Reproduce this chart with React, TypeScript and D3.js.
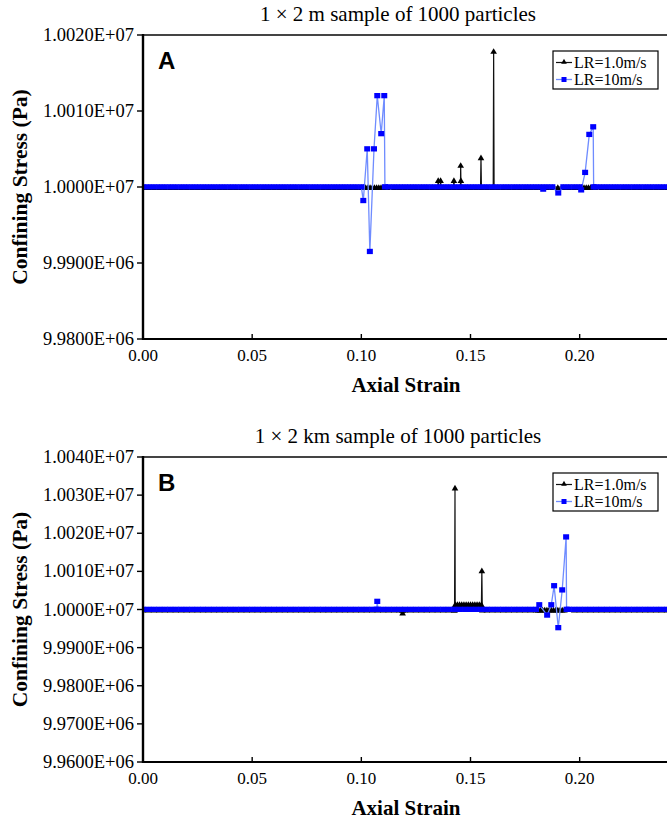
import React from "react";
import * as d3 from "d3";

// two panels: confining stress vs axial strain, stress values kept in MPa
// each series is a list of [axial strain, confining stress (MPa)]

const strainTicks = [0, 0.05, 0.1, 0.15, 0.2];
const stressTicksA = [9.98, 9.99, 10.0, 10.01, 10.02];
const stressTicksB = [9.96, 9.97, 9.98, 9.99, 10.0, 10.01, 10.02, 10.03, 10.04];
const seriesNames = ["LR=1.0m/s", "LR=10m/s"];

type Pt = [number, number];

// panel A (1 x 2 m), LR=1.0m/s
const pointsA1: Pt[] = [
  [0, 10], [0.0025, 10], [0.005, 10], [0.0075, 10], [0.01, 10], [0.0125, 10], [0.015, 10], [0.0175, 10],
  [0.02, 10], [0.0225, 10], [0.025, 10], [0.0275, 10], [0.03, 10], [0.0325, 10], [0.035, 10], [0.0375, 10],
  [0.04, 10], [0.0425, 10], [0.045, 10], [0.0475, 10], [0.05, 10], [0.0525, 10], [0.055, 10], [0.0575, 10],
  [0.06, 10], [0.0625, 10], [0.065, 10], [0.0675, 10], [0.07, 10], [0.0725, 10], [0.075, 10], [0.0775, 10],
  [0.08, 10], [0.0825, 10], [0.085, 10], [0.0875, 10], [0.09, 10], [0.0925, 10], [0.095, 10], [0.0975, 10],
  [0.1, 10], [0.101, 10], [0.102, 10], [0.103, 10], [0.104, 10], [0.105, 10], [0.106, 10], [0.107, 10],
  [0.108, 10], [0.109, 10], [0.11, 10], [0.111, 10], [0.112, 10], [0.115, 10], [0.1175, 10], [0.12, 10],
  [0.1225, 10], [0.125, 10], [0.1275, 10], [0.13, 10], [0.1325, 10], [0.135, 10], [0.1352, 10.0009], [0.1354, 10],
  [0.1361, 10], [0.1363, 10.0009], [0.1365, 10], [0.1375, 10], [0.14, 10], [0.1422, 10], [0.1424, 10.0009],
  [0.1426, 10], [0.145, 10], [0.1454, 10], [0.1455, 10.0029], [0.1456, 10.0009], [0.1457, 10], [0.1475, 10],
  [0.15, 10], [0.1525, 10], [0.1546, 10], [0.1548, 10.0039], [0.155, 10], [0.1575, 10], [0.16, 10], [0.1604, 10],
  [0.1606, 10.0179], [0.1608, 10], [0.1625, 10], [0.165, 10], [0.1675, 10], [0.17, 10], [0.1725, 10], [0.175, 10],
  [0.1775, 10], [0.18, 10], [0.1825, 10], [0.185, 10], [0.1875, 10], [0.19, 10], [0.1925, 10], [0.195, 10],
  [0.1975, 10], [0.2, 10], [0.201, 10], [0.202, 10], [0.203, 10], [0.204, 10], [0.205, 10], [0.206, 10],
  [0.207, 10], [0.21, 10], [0.2125, 10], [0.215, 10], [0.2175, 10], [0.22, 10], [0.2225, 10], [0.225, 10],
  [0.2275, 10], [0.23, 10], [0.2325, 10], [0.235, 10], [0.2375, 10], [0.24, 10], [0.2425, 10], [0.245, 10],
];

// panel A, LR=10m/s
const pointsA10: Pt[] = [
  [0, 10], [0.0025, 10], [0.005, 10], [0.0075, 10], [0.01, 10], [0.0125, 10], [0.015, 10], [0.0175, 10],
  [0.02, 10], [0.0225, 10], [0.025, 10], [0.0275, 10], [0.03, 10], [0.0325, 10], [0.035, 10], [0.0375, 10],
  [0.04, 10], [0.0425, 10], [0.045, 10], [0.0475, 10], [0.05, 10], [0.0525, 10], [0.055, 10], [0.0575, 10],
  [0.06, 10], [0.0625, 10], [0.065, 10], [0.0675, 10], [0.07, 10], [0.0725, 10], [0.075, 10], [0.0775, 10],
  [0.08, 10], [0.0825, 10], [0.085, 10], [0.0875, 10], [0.09, 10], [0.0925, 10], [0.095, 10], [0.0975, 10],
  [0.1, 10], [0.1009, 9.9982], [0.1027, 10.005], [0.1039, 9.9915], [0.1058, 10.005], [0.1073, 10.012],
  [0.1091, 10.007], [0.1105, 10.012], [0.1108, 10], [0.1125, 10], [0.115, 10], [0.1175, 10], [0.12, 10],
  [0.1225, 10], [0.125, 10], [0.1275, 10], [0.13, 10], [0.1325, 10], [0.135, 10], [0.1375, 10], [0.14, 10],
  [0.1425, 10], [0.145, 10], [0.1475, 10], [0.15, 10], [0.1525, 10], [0.155, 10], [0.1575, 10], [0.16, 10],
  [0.1625, 10], [0.165, 10], [0.1675, 10], [0.17, 10], [0.1725, 10], [0.175, 10], [0.1775, 10], [0.18, 10],
  [0.1825, 10], [0.1833, 9.9997], [0.185, 10], [0.1875, 10], [0.1902, 9.9992], [0.1925, 10], [0.195, 10],
  [0.1975, 10], [0.2, 10], [0.2007, 9.9996], [0.2025, 10.0019], [0.2044, 10.0069], [0.2062, 10.0079],
  [0.2064, 10], [0.2075, 10], [0.21, 10], [0.2125, 10], [0.215, 10], [0.2175, 10], [0.22, 10], [0.2225, 10],
  [0.225, 10], [0.2275, 10], [0.23, 10], [0.2325, 10], [0.235, 10], [0.2375, 10], [0.24, 10], [0.2425, 10],
  [0.245, 10],
];

// panel B (1 x 2 km), LR=1.0m/s
const pointsB1: Pt[] = [
  [0, 10], [0.0025, 10], [0.005, 10], [0.0075, 10], [0.01, 10], [0.0125, 10], [0.015, 10], [0.0175, 10],
  [0.02, 10], [0.0225, 10], [0.025, 10], [0.0275, 10], [0.03, 10], [0.0325, 10], [0.035, 10], [0.0375, 10],
  [0.04, 10], [0.0425, 10], [0.045, 10], [0.0475, 10], [0.05, 10], [0.0525, 10], [0.055, 10], [0.0575, 10],
  [0.06, 10], [0.0625, 10], [0.065, 10], [0.0675, 10], [0.07, 10], [0.0725, 10], [0.075, 10], [0.0775, 10],
  [0.08, 10], [0.0825, 10], [0.085, 10], [0.0875, 10], [0.09, 10], [0.0925, 10], [0.095, 10], [0.0975, 10],
  [0.1, 10], [0.1025, 10], [0.105, 10], [0.1075, 10], [0.11, 10], [0.1125, 10], [0.115, 10], [0.1175, 10],
  [0.1187, 10], [0.1189, 9.9992], [0.1191, 10], [0.12, 10], [0.1225, 10], [0.125, 10], [0.1275, 10], [0.13, 10],
  [0.1325, 10], [0.135, 10], [0.1375, 10], [0.14, 10], [0.1425, 10], [0.1427, 10], [0.1429, 10.032],
  [0.143, 10.0014], [0.144, 10.0014], [0.145, 10.0014], [0.146, 10.0014], [0.147, 10.0014], [0.148, 10.0014],
  [0.149, 10.0014], [0.15, 10.0014], [0.151, 10.0014], [0.152, 10.0014], [0.153, 10.0014], [0.154, 10.0014],
  [0.155, 10.0014], [0.1552, 10.0103], [0.1554, 10], [0.1575, 10], [0.16, 10], [0.1625, 10], [0.165, 10],
  [0.1675, 10], [0.17, 10], [0.1725, 10], [0.175, 10], [0.1775, 10], [0.18, 10], [0.181, 10], [0.182, 10],
  [0.183, 10], [0.184, 10], [0.185, 10], [0.186, 10], [0.187, 10], [0.188, 10], [0.189, 10], [0.19, 10],
  [0.191, 10], [0.192, 10], [0.193, 10], [0.1975, 10], [0.2, 10], [0.2025, 10], [0.205, 10], [0.2075, 10],
  [0.21, 10], [0.2125, 10], [0.215, 10], [0.2175, 10], [0.22, 10], [0.2225, 10], [0.225, 10], [0.2275, 10],
  [0.23, 10], [0.2325, 10], [0.235, 10], [0.2375, 10], [0.24, 10], [0.2425, 10], [0.245, 10],
];

// panel B, LR=10m/s
const pointsB10: Pt[] = [
  [0, 10], [0.0025, 10], [0.005, 10], [0.0075, 10], [0.01, 10], [0.0125, 10], [0.015, 10], [0.0175, 10],
  [0.02, 10], [0.0225, 10], [0.025, 10], [0.0275, 10], [0.03, 10], [0.0325, 10], [0.035, 10], [0.0375, 10],
  [0.04, 10], [0.0425, 10], [0.045, 10], [0.0475, 10], [0.05, 10], [0.0525, 10], [0.055, 10], [0.0575, 10],
  [0.06, 10], [0.0625, 10], [0.065, 10], [0.0675, 10], [0.07, 10], [0.0725, 10], [0.075, 10], [0.0775, 10],
  [0.08, 10], [0.0825, 10], [0.085, 10], [0.0875, 10], [0.09, 10], [0.0925, 10], [0.095, 10], [0.0975, 10],
  [0.1, 10], [0.1025, 10], [0.105, 10], [0.107, 10], [0.1073, 10.0021], [0.1076, 10], [0.11, 10], [0.1125, 10],
  [0.115, 10], [0.1175, 10], [0.12, 10], [0.1225, 10], [0.125, 10], [0.1275, 10], [0.13, 10], [0.1325, 10],
  [0.135, 10], [0.1375, 10], [0.14, 10], [0.1425, 10], [0.145, 10], [0.1475, 10], [0.15, 10], [0.1525, 10],
  [0.155, 10], [0.1575, 10], [0.16, 10], [0.1625, 10], [0.165, 10], [0.1675, 10], [0.17, 10], [0.1725, 10],
  [0.175, 10], [0.1775, 10], [0.18, 10], [0.1815, 10.0012], [0.1851, 9.9985], [0.187, 10.0012], [0.1883, 10.0062],
  [0.1902, 9.9952], [0.192, 10.0051], [0.1938, 10.019], [0.194, 10], [0.195, 10], [0.1975, 10], [0.2, 10],
  [0.2025, 10], [0.205, 10], [0.2075, 10], [0.21, 10], [0.2125, 10], [0.215, 10], [0.2175, 10], [0.22, 10],
  [0.2225, 10], [0.225, 10], [0.2275, 10], [0.23, 10], [0.2325, 10], [0.235, 10], [0.2375, 10], [0.24, 10],
  [0.2425, 10], [0.245, 10],
];

const W = 667;
const H = 819;
const X0 = 143;
const serif = "'Liberation Serif', 'Times New Roman', serif";
const BLUE = "#0000ff";
const BLUE_LINE = "#6f8cff";

function sciLabel(mpa: number) {
  const pa = Math.round(mpa * 1e6);
  const e = Math.floor(Math.log10(pa));
  const m = pa / Math.pow(10, e);
  return `${m.toFixed(4)}E+${String(e).padStart(2, "0")}`;
}

type PanelProps = {
  id: string;
  top: number;
  bottom: number;
  title: string;
  tag: string;
  yTicks: number[];
  slow: Pt[];
  fast: Pt[];
};

function Panel({ id, top, bottom, title, tag, yTicks, slow, fast }: PanelProps) {
  const x = d3.scaleLinear().domain([0, 0.24]).range([X0, W]);
  const y = d3
    .scaleLinear()
    .domain([yTicks[0], yTicks[yTicks.length - 1]])
    .range([bottom, top]);

  const line = d3
    .line<Pt>()
    .x((d) => x(d[0]))
    .y((d) => y(d[1]));
  const tri = d3.symbol(d3.symbolTriangle, 19)() as string;
  const midY = (top + bottom) / 2;
  const lg = { x: 553, y: top + 16, w: 105, h: 38 };

  return (
    <g>
      <defs>
        <clipPath id={`clip-${id}`}>
          <rect x={X0 + 1} y={top - 20} width={W - X0} height={bottom - top + 40} />
        </clipPath>
      </defs>

      <text x={398} y={top - 14} textAnchor="middle" fontFamily={serif} fontSize={21}>
        {title}
      </text>

      {/* slow series underneath, fast one drawn on top */}
      <g clipPath={`url(#clip-${id})`}>
        <path d={line(slow) ?? ""} fill="none" stroke="#111" strokeWidth={1.2} />
        {slow.map((d, i) => (
          <path key={"s" + i} d={tri} transform={`translate(${x(d[0])},${y(d[1]) + 1})`} fill="#000" />
        ))}
        <path d={line(fast) ?? ""} fill="none" stroke={BLUE_LINE} strokeWidth={1.3} />
        {fast.map((d, i) => (
          <rect key={"f" + i} x={x(d[0]) - 3} y={y(d[1]) - 2.8} width={6} height={5.3} fill={BLUE} />
        ))}
      </g>

      {/* frame */}
      <line x1={X0} x2={W} y1={top} y2={top} stroke="#444" strokeWidth={2} />
      <line x1={X0} x2={W} y1={bottom} y2={bottom} stroke="#000" strokeWidth={2} />
      <line x1={X0} x2={X0} y1={top - 1} y2={bottom + 1} stroke="#000" strokeWidth={2.4} />

      {yTicks.map((t) => (
        <g key={t}>
          <line x1={X0 - 6} x2={X0} y1={y(t)} y2={y(t)} stroke="#000" strokeWidth={1.4} />
          <text x={134} y={y(t) + 6} textAnchor="end" fontFamily={serif} fontSize={18.5}>
            {sciLabel(t)}
          </text>
        </g>
      ))}
      {strainTicks.map((t) => (
        <g key={t}>
          <line x1={x(t)} x2={x(t)} y1={bottom} y2={bottom - 5} stroke="#000" strokeWidth={1.4} />
          <text x={x(t)} y={bottom + 22} textAnchor="middle" fontFamily={serif} fontSize={17}>
            {t.toFixed(2)}
          </text>
        </g>
      ))}

      <text x={406} y={bottom + 53} textAnchor="middle" fontFamily={serif} fontSize={21} fontWeight="bold">
        Axial Strain
      </text>
      <text
        transform={`translate(27,${midY}) rotate(-90)`}
        textAnchor="middle"
        fontFamily={serif}
        fontSize={21.5}
        fontWeight="bold"
      >
        Confining Stress (Pa)
      </text>

      <text x={158} y={top + 34} fontFamily="'Liberation Sans', Arial, sans-serif" fontSize={24} fontWeight="bold">
        {tag}
      </text>

      {/* legend */}
      <rect x={lg.x} y={lg.y} width={lg.w} height={lg.h} fill="#fff" stroke="#000" strokeWidth={1.2} />
      <line x1={lg.x + 3} x2={lg.x + 19} y1={lg.y + 11.5} y2={lg.y + 11.5} stroke="#111" strokeWidth={1.2} />
      <path d={d3.symbol(d3.symbolTriangle, 14)() as string} transform={`translate(${lg.x + 11},${lg.y + 11})`} fill="#000" />
      <text x={lg.x + 21} y={lg.y + 16.5} fontFamily={serif} fontSize={16}>
        {seriesNames[0]}
      </text>
      <line x1={lg.x + 3} x2={lg.x + 19} y1={lg.y + 28.5} y2={lg.y + 28.5} stroke={BLUE_LINE} strokeWidth={1.3} />
      <rect x={lg.x + 8.5} y={lg.y + 26} width={5} height={5} fill={BLUE} />
      <text x={lg.x + 21} y={lg.y + 34} fontFamily={serif} fontSize={16}>
        {seriesNames[1]}
      </text>
    </g>
  );
}

export default function App() {
  return (
    <div style={{ position: "absolute", left: 0, top: 0, width: W, height: H, background: "#fff" }}>
      <svg width={W} height={H} viewBox={`0 0 ${W} ${H}`} style={{ display: "block" }}>
        <rect width={W} height={H} fill="#fff" />
        <Panel
          id="a"
          top={35}
          bottom={339}
          title="1 × 2 m sample of 1000 particles"
          tag="A"
          yTicks={stressTicksA}
          slow={pointsA1}
          fast={pointsA10}
        />
        <Panel
          id="b"
          top={457}
          bottom={762}
          title="1 × 2 km sample of 1000 particles"
          tag="B"
          yTicks={stressTicksB}
          slow={pointsB1}
          fast={pointsB10}
        />
      </svg>
    </div>
  );
}
